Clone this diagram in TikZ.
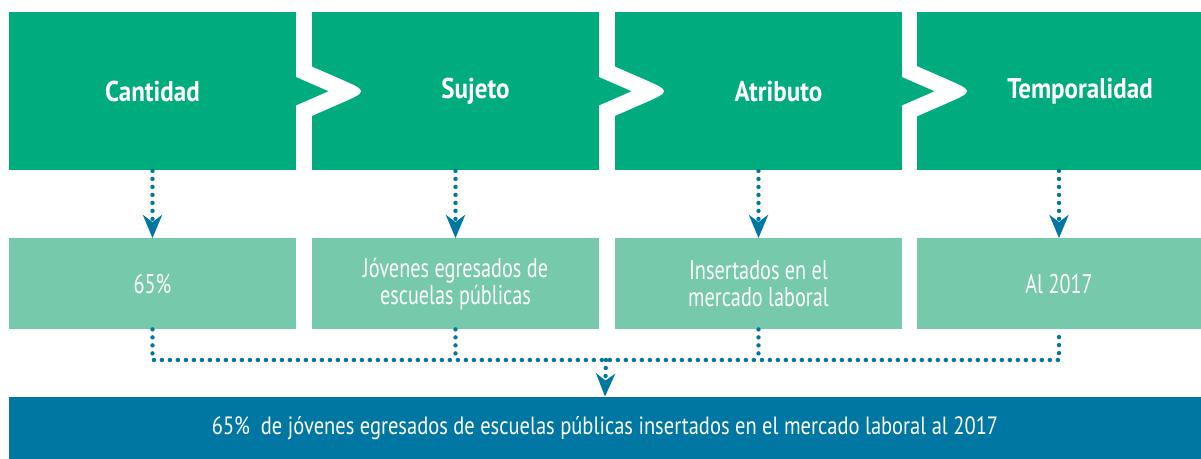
\documentclass[tikz,border=0pt]{standalone}
\usepackage{fontspec}
\setmainfont{PT Sans}[FakeStretch=0.82]
\newfontfamily\valfont{PT Sans}[FakeStretch=0.75]
\newfontfamily\headfont{PT Sans}[FakeStretch=0.875]
\usetikzlibrary{arrows.meta,calc}

\definecolor{topgreen}{HTML}{00AB7E}
\definecolor{lowgreen}{HTML}{76C9AB}
\definecolor{resblue}{HTML}{0076A3}

\tikzset{
  headbox/.style={fill=topgreen, minimum width=143.5pt, minimum height=79.25pt, inner sep=0pt},
  headtext/.style={text=white, inner sep=0pt, font=\headfont\bfseries\fontsize{14.3}{16}\selectfont},
  valbox/.style={fill=lowgreen, minimum width=143.5pt, minimum height=45.25pt, inner sep=0pt,
    text=white, align=center, font=\valfont\fontsize{13.5}{13.5}\selectfont},
  resbox/.style={fill=resblue, minimum width=596pt, minimum height=31pt, inner sep=0pt,
    text=white, font=\fontsize{12.5}{14}\selectfont},
  dots/.style={resblue, line width=2.2pt, line cap=round, dash pattern=on 0pt off 4pt},
  dotarrow/.style={dots, -{Stealth[length=11.5pt,width=9.5pt,inset=3.5pt]}},
}

\begin{document}
\begin{tikzpicture}[x=0.5pt,y=-0.5pt]
\useasboundingbox (0,0) rectangle (1201,459);

% top row
\node[headbox] (cant) at (152.5,91.25) {};
\node[headbox] (suje) at (455.5,91.25) {};
\node[headbox] (atri) at (758.5,91.25) {};
\node[headbox, minimum width=142pt] (temp) at (1059,91.25) {};

% chevrons between the boxes
\foreach \n in {cant,suje,atri}{
  \begin{scope}[shift={(\n.east)}]
    \fill[white] (14,-25.3) -- (42.7,-12.8) .. controls (72,0) .. (42.7,12.8) -- (14,25.3) -- cycle;
    \fill[topgreen] (-1,-14.4) -- (32,0) -- (-1,14.4) -- cycle;
  \end{scope}
}

\node[headtext] (cant-t) at (cant.center) {Cantidad};
\node[headtext] (suje-t) at ($(suje.center)+(20,0)$) {Sujeto};
\node[headtext] (atri-t) at ($(atri.center)+(20,0)$) {Atributo};
\node[headtext] (temp-t) at ($(temp.center)+(21,0)$) {Temporalidad};

% second row
\node[valbox] (v1) at (152.5,283.75) {65\%};
\node[valbox] (v2) at (455.5,283.75) {Jóvenes egresados de\\escuelas públicas};
\node[valbox] (v3) at (758.5,283.75) {Insertados en el\\mercado laboral};
\node[valbox, minimum width=142pt] (v4) at (1059,283.75) {Al 2017};

% result
\node[resbox] (res) at (605,428) {65\%~~de jóvenes egresados de escuelas públicas insertados en el mercado laboral al 2017};

% connectors
\draw[dotarrow] (cant.south) -- (v1.north);
\draw[dotarrow] (suje.south) -- (v2.north);
\draw[dotarrow] (atri.south) -- (v3.north);
\draw[dotarrow] (temp.south) -- (v4.north);

\coordinate (join) at (606,360);
\draw[dots] (v1.south) |- (join) -| (v4.south);
\draw[dots] (v2.south) -- (v2.south |- join);
\draw[dots] (v3.south) -- (v3.south |- join);
\draw[dotarrow] (join) -- (res.north);
\end{tikzpicture}
\end{document}
